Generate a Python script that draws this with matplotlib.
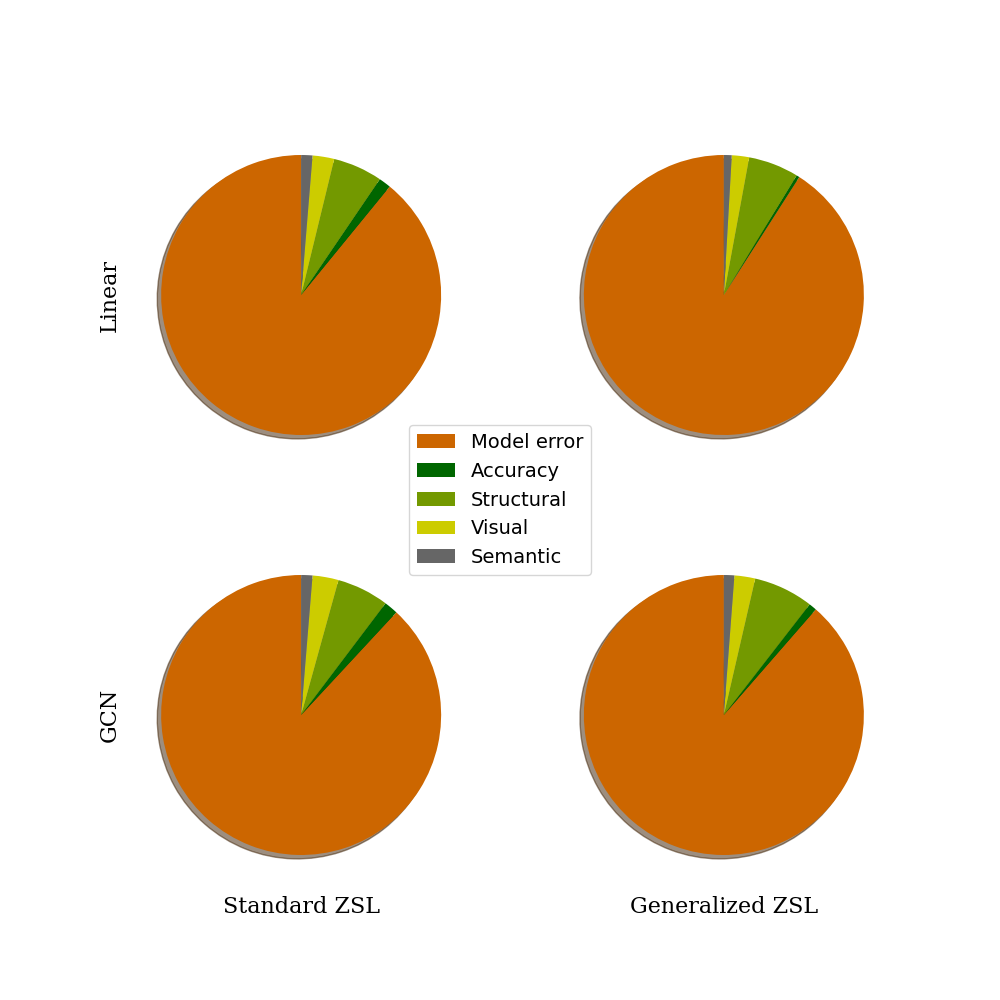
import matplotlib
matplotlib.use('Agg')
import matplotlib.pyplot as plt

# error breakdown (percent), order: Model error, Accuracy, Structural, Visual, Semantic
labels = ['Model error', 'Accuracy', 'Structural', 'Visual', 'Semantic']
colors = ['#cc6600', '#006600', '#739900', '#cccc00', '#666666']

linear_zsl = [89.1, 1.4, 5.7, 2.5, 1.3]
linear_gzsl = [90.9, 0.35, 5.8, 2.0, 0.9]
gcn_zsl = [88.1, 1.6, 6.0, 3.0, 1.3]
gcn_gzsl = [88.6, 0.9, 6.9, 2.4, 1.2]

row_names = ['Linear', 'GCN']
col_names = ['Standard ZSL', 'Generalized ZSL']
data = [[linear_zsl, linear_gzsl], [gcn_zsl, gcn_gzsl]]

fig, axes = plt.subplots(2, 2, figsize=(10, 10))
wedges = None
for i in range(2):
    for j in range(2):
        ax = axes[i][j]
        w, _ = ax.pie(data[i][j], colors=colors, startangle=90, shadow=True)
        if wedges is None:
            wedges = w
        if j == 0:
            ax.set_ylabel(row_names[i], family='serif', fontsize=16)
        if i == 1:
            ax.set_xlabel(col_names[j], family='serif', fontsize=16)

fig.legend(wedges, labels, loc='center', fontsize=14)
plt.savefig('out.png')
